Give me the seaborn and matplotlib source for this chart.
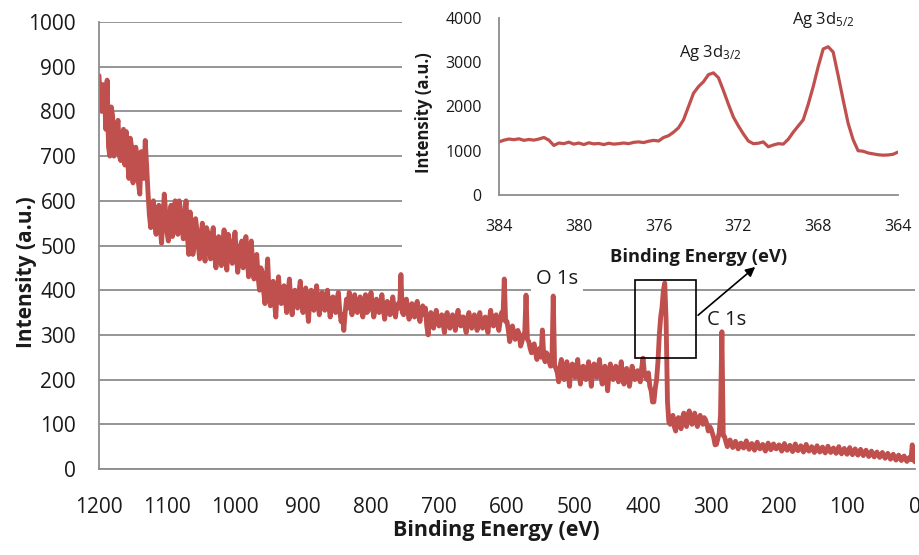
import numpy as np
import pandas as pd
import matplotlib
matplotlib.use("Agg")
import matplotlib.pyplot as plt
from matplotlib.patches import Rectangle
from matplotlib.ticker import MultipleLocator
import seaborn as sns

# ---- XPS survey scan, 2 eV steps, stored as two interleaved 4 eV grids ----
# counts at 1200, 1196, ..., 0 eV
survey_energy_a = np.arange(1200, -1, -4)
survey_counts_a = [
    880, 800, 850, 870, 700, 790, 740, 780, 690, 760,   # 1200-1164
    755, 650, 720, 670, 700, 615, 690, 735, 620, 540,   # 1160-1124
    600, 525, 590, 505, 615, 530, 570, 520, 600, 525,   # 1120-1084
    580, 515, 600, 480, 545, 500, 535, 470, 550, 465,   # 1080-1044
    530, 470, 540, 450, 520, 455, 535, 445, 510, 460,   # 1040-1004
    530, 440, 500, 450, 520, 430, 510, 425, 480, 400,   # 1000-964
    440, 370, 470, 365, 420, 340, 430, 370, 410, 350,   # 960-924
    425, 345, 400, 360, 420, 350, 405, 330, 400, 355,   # 920-884
    410, 345, 395, 355, 400, 340, 385, 350, 395, 330,   # 880-844
    310, 380, 395, 345, 390, 350, 385, 340, 390, 355,   # 840-804
    395, 340, 380, 350, 390, 335, 375, 345, 385, 340,   # 800-764
    370, 435, 345, 380, 335, 370, 340, 375, 330, 365,   # 760-724
    360, 300, 350, 315, 355, 320, 345, 305, 350, 315,   # 720-684
    345, 310, 355, 320, 340, 305, 350, 315, 345, 310,   # 680-644
    350, 315, 340, 305, 355, 320, 345, 310, 350, 425,   # 640-604
    330, 285, 320, 290, 310, 275, 300, 389, 285, 260,   # 600-564
    280, 245, 270, 311, 240, 255, 230, 387, 225, 195,   # 560-524
    245, 200, 240, 185, 235, 205, 245, 190, 230, 200,   # 520-484
    240, 185, 235, 205, 245, 190, 230, 175, 235, 200,   # 480-444
    230, 195, 240, 190, 225, 185, 230, 200, 220, 195,   # 440-404
    248, 205, 215, 175, 150, 200, 300, 362, 416, 150,   # 400-364
    100, 120, 85, 115, 90, 125, 95, 130, 100, 125,      # 360-324
    95, 120, 100, 110, 85, 90, 70, 55, 80, 307,         # 320-284
    72, 50, 65, 48, 62, 45, 58, 47, 63, 44,             # 280-244
    57, 42, 60, 45, 55, 40, 58, 43, 56, 45,             # 240-204
    54, 40, 57, 42, 53, 39, 56, 41, 52, 38,             # 200-164
    55, 40, 50, 37, 52, 38, 49, 36, 51, 37,             # 160-124
    47, 35, 50, 34, 46, 33, 48, 32, 45, 31,             # 120-84
    44, 30, 42, 28, 40, 27, 38, 26, 37, 24,             # 80-44
    35, 22, 33, 20, 31, 19, 29, 17, 26, 54,             # 40-4
    16,                                                 # 0
]
# counts at 1198, 1194, ..., 2 eV
survey_energy_b = np.arange(1198, 0, -4)
survey_counts_b = [
    820, 860, 760, 720, 810, 700, 760, 700, 745, 680,   # 1198-1162
    690, 740, 640, 720, 640, 710, 650, 680, 570, 590,   # 1158-1122
    545, 580, 540, 560, 575, 510, 590, 540, 560, 600,   # 1118-1082
    540, 560, 520, 575, 480, 560, 500, 520, 490, 540,   # 1078-1042
    500, 520, 480, 510, 470, 505, 480, 525, 470, 500,   # 1038-1002
    480, 470, 510, 465, 470, 480, 455, 470, 430, 450,   # 998-962
    400, 420, 395, 410, 375, 400, 385, 400, 380, 395,   # 958-922
    380, 390, 370, 395, 375, 385, 365, 380, 365, 385,   # 918-882
    370, 380, 360, 385, 365, 375, 360, 380, 355, 345,   # 878-842
    350, 360, 370, 380, 355, 370, 360, 375, 350, 370,   # 838-802
    365, 355, 370, 365, 360, 355, 370, 350, 360, 365,   # 798-762
    360, 350, 365, 355, 360, 350, 365, 345, 355, 345,   # 758-722
    320, 335, 330, 340, 330, 335, 325, 340, 325, 335,   # 718-682
    330, 335, 325, 340, 320, 335, 330, 325, 335, 330,   # 678-642
    325, 330, 320, 335, 330, 340, 325, 330, 335, 330,   # 638-602
    310, 300, 305, 295, 300, 285, 300, 290, 270, 275,   # 598-562
    260, 265, 250, 255, 260, 240, 235, 230, 215, 230,   # 558-522
    220, 225, 210, 230, 215, 225, 210, 225, 215, 220,   # 518-482
    215, 220, 210, 225, 210, 220, 205, 215, 210, 220,   # 478-442
    210, 215, 205, 220, 210, 205, 215, 210, 205, 225,   # 438-402
    215, 200, 185, 150, 180, 240, 340, 400, 330, 105,   # 398-362
    115, 95, 110, 100, 115, 105, 120, 110, 115, 105,    # 358-322
    110, 105, 115, 100, 95, 80, 54, 68, 120, 75,        # 318-282
    60, 58, 55, 57, 52, 54, 50, 55, 52, 53,             # 278-242
    50, 52, 49, 51, 47, 50, 48, 52, 47, 49,             # 238-202
    47, 49, 46, 48, 45, 47, 44, 46, 45, 46,             # 198-162
    45, 44, 43, 45, 42, 44, 41, 43, 42, 41,             # 158-122
    40, 42, 39, 41, 38, 40, 37, 39, 36, 38,             # 118-82
    36, 37, 34, 35, 32, 33, 31, 32, 30, 29,             # 78-42
    28, 27, 25, 26, 24, 25, 22, 23, 21, 20,             # 38-2
]

# ---- Ag 3d high-resolution scan (0.25 eV steps, 384 -> 364 eV) ----
ag_energy = np.linspace(384, 364, 81)
ag_counts = [
    1200, 1240, 1265, 1250, 1270, 1235, 1255, 1240,   # 384-382.25
    1265, 1300, 1240, 1120, 1175, 1160, 1195, 1150,   # 382-380.25
    1175, 1140, 1180, 1155, 1165, 1140, 1170, 1150,   # 380-378.25
    1160, 1175, 1160, 1190, 1200, 1185, 1215, 1235,   # 378-376.25
    1220, 1300, 1340, 1420, 1520, 1700, 2000, 2300,   # 376-374.25
    2450, 2560, 2720, 2760, 2650, 2360, 2050, 1760,   # 374-372.25
    1560, 1380, 1220, 1160, 1170, 1200, 1090, 1130,   # 372-370.25
    1160, 1150, 1260, 1420, 1560, 1700, 2050, 2450,   # 370-368.25
    2900, 3300, 3350, 3230, 2700, 2150, 1620, 1250,   # 368-366.25
    1000, 990, 950, 930, 910, 900, 905, 920,          # 366-364.25
    970,                                              # 364
]

survey_ticks = list(range(0, 1201, 100))
survey_yticks = list(range(0, 1001, 100))
ag_yticks = list(range(0, 4001, 1000))

survey = pd.concat([
    pd.DataFrame({"energy": survey_energy_a, "intensity": survey_counts_a}),
    pd.DataFrame({"energy": survey_energy_b, "intensity": survey_counts_b}),
]).sort_values("energy", ascending=False).reset_index(drop=True)
ag3d = pd.DataFrame({"energy": ag_energy, "intensity": ag_counts})

sns.set_theme(style="white")
plt.rcParams["font.family"] = ["Open Sans", "DejaVu Sans"]
plt.rcParams["mathtext.fontset"] = "custom"
plt.rcParams["mathtext.rm"] = "Open Sans"
plt.rcParams["mathtext.it"] = "Open Sans:italic"
plt.rcParams["mathtext.bf"] = "Open Sans:bold"

RED = "#C0504D"
GREY = "#8C8C8C"
INK = "#1a1a1a"

W, H = 919, 555
fig = plt.figure(figsize=(W / 100, H / 100), dpi=100)
fig.patch.set_facecolor("white")

# ---- main survey axes ----
ax = fig.add_axes([99 / W, 1 - 469 / H, 816 / W, 447 / H])
sns.lineplot(data=survey, x="energy", y="intensity", ax=ax, color=RED,
             lw=3.5, estimator=None, sort=False)
ax.set_xlim(1200, 0)
ax.set_ylim(0, 1000)
ax.set_xticks(survey_ticks)
ax.set_yticks(survey_yticks)
ax.set_axisbelow(True)
ax.yaxis.grid(True, color=GREY, lw=1.3)
ax.xaxis.grid(False)
for s in ("top", "right"):
    ax.spines[s].set_visible(False)
for s in ("left", "bottom"):
    ax.spines[s].set_color(GREY)
    ax.spines[s].set_linewidth(1.3)
ax.tick_params(axis="both", which="major", direction="out", color=GREY,
               width=1.3, length=6.5, labelsize=15, labelcolor=INK)
ax.tick_params(axis="y", pad=10)
ax.tick_params(axis="x", pad=14)
ax.set_xlabel("Binding Energy (eV)", fontsize=15.5, fontweight="bold", color=INK)
ax.xaxis.set_label_coords(0.4865, -0.115)
ax.set_ylabel("Intensity (a.u.)", fontsize=15, fontweight="bold", color=INK)
ax.yaxis.set_label_coords(-0.076, 0.44)

# peak labels
ax.text(526.5, 425, "O 1s", ha="center", va="center", fontsize=14.5, color=INK,
        zorder=1.5, bbox=dict(boxstyle="square,pad=0.25", fc="white", ec="none"))
ax.text(276.5, 333, "C 1s", ha="center", va="center", fontsize=14.5, color=INK)

# zoom box around the Ag 3d region and pointer to the inset
ax.add_patch(Rectangle((322, 248), 90, 175, fill=False, ec="black", lw=1.2, zorder=3))
ax.annotate("", xy=(235, 452), xytext=(319, 344),
            arrowprops=dict(arrowstyle="-|>", color="black", lw=1.2,
                            mutation_scale=14, shrinkA=0, shrinkB=0),
            annotation_clip=False, zorder=3)

# white backing for the inset panel
fig.add_artist(Rectangle((402 / W, 1 - 262 / H), 1 - 402 / W, 262 / H,
                         transform=fig.transFigure, fc="white", ec="none", zorder=1))

# ---- inset: Ag 3d ----
ins = fig.add_axes([499 / W, 1 - 195 / H, 399 / W, 177 / H])
ins.set_zorder(2)
sns.lineplot(data=ag3d, x="energy", y="intensity", ax=ins, color=RED,
             lw=2.3, estimator=None, sort=False)
ins.set_xlim(384, 364)
ins.set_ylim(0, 4000)
ins.xaxis.set_major_locator(MultipleLocator(4))
ins.xaxis.set_minor_locator(MultipleLocator(2))
ins.set_yticks(ag_yticks)
ins.grid(False)
for s in ("top", "right"):
    ins.spines[s].set_visible(False)
for s in ("left", "bottom"):
    ins.spines[s].set_color(GREY)
    ins.spines[s].set_linewidth(1.3)
ins.tick_params(axis="both", which="both", direction="out", color=GREY,
                width=1.3, labelsize=11.5, labelcolor=INK)
ins.tick_params(axis="y", which="major", length=6.5, pad=6)
ins.tick_params(axis="x", which="both", length=5, pad=12)
ins.set_xlabel("Binding Energy (eV)", fontsize=13.2, fontweight="bold", color=INK)
ins.xaxis.set_label_coords(0.501, -0.30)
ins.set_ylabel("Intensity (a.u.)", fontsize=12, fontweight="bold", color=INK)
ins.yaxis.set_label_coords(-0.165, 0.463)
ins.text(373.4, 3209, "Ag 3d$_{3/2}$", ha="center", va="center", fontsize=12, color=INK)
ins.text(367.76, 3955, "Ag 3d$_{5/2}$", ha="center", va="center", fontsize=12, color=INK)

fig.savefig("out.png", dpi=100)
